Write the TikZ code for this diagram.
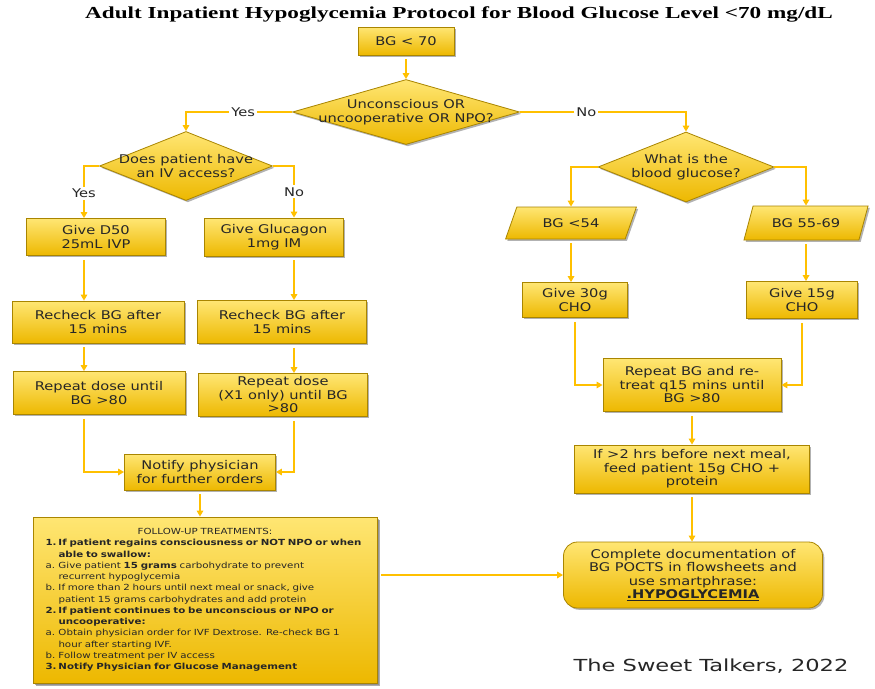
\documentclass[tikz,border=0pt]{standalone}
\usepackage{fontspec}
\setmainfont{Liberation Serif}
\newfontfamily\boxfont[FakeStretch=1.22]{DejaVu Sans}
\newfontfamily\creditfont[FakeStretch=1.36]{DejaVu Sans}
\newfontfamily\titlefont[FakeStretch=1.38]{Liberation Serif}
\usetikzlibrary{arrows.meta, shapes.geometric, shadows}
\definecolor{GoldTop}{HTML}{FFE673}
\definecolor{GoldMid}{HTML}{FFD000}
\definecolor{GoldBot}{HTML}{EDB800}
\definecolor{GoldEdge}{HTML}{A98500}
\definecolor{Flow}{HTML}{FFC000}
\definecolor{Ink}{HTML}{262626}

\newcommand{\followline}[2]{\par\noindent\makebox[13pt][l]{#1}#2\par}

\tikzset{
    box/.style={rectangle, draw=GoldEdge, line width=0.8pt, top color=GoldTop, middle color=GoldMid, bottom color=GoldBot,
        drop shadow={shadow xshift=1.8pt, shadow yshift=-1.8pt, opacity=0.6},
        font=\boxfont\fontsize{12}{13.5}\selectfont, text=Ink, align=center, inner sep=0pt},
    decision/.style={box, diamond},
    slanted/.style={box, trapezium, trapezium left angle=57, trapezium right angle=123, trapezium stretches=true},
    qtext/.style={font=\boxfont\fontsize{12}{13.5}\selectfont, text=Ink, align=center},
    flow/.style={draw=Flow, line width=1.6pt, -{Triangle[length=6pt, width=6.5pt]}},
    gap/.style={shorten <=4pt},
    yesno/.style={fill=white, font=\boxfont\fontsize{12}{13.5}\selectfont, text=Ink, inner sep=2pt},
}

\begin{document}
\begin{tikzpicture}[x=1pt, y=-1pt]

    \fill[white] (0,0) rectangle (875,688);
    \useasboundingbox (0,0) rectangle (875,688);

    \node (title) at (459,14) {\titlefont\bfseries\fontsize{16.8}{18}\selectfont Adult Inpatient Hypoglycemia Protocol for Blood Glucose Level <70 mg/dL};

    % main question
    \node[box, minimum width=96, minimum height=28] (start) at (406,41) {BG < 70};
    \node[decision, minimum width=227, minimum height=65,
        label={[qtext]center:Unconscious OR\\uncooperative OR NPO?}] (uncon) at (406,112) {};

    % left branch
    \node[decision, minimum width=173, minimum height=69,
        label={[qtext]center:Does patient have\\an IV access?}] (ivq) at (186,166) {};
    \node[box, minimum width=139, minimum height=37] (d50) at (96,237) {Give D50\\25mL IVP};
    \node[box, minimum width=139, minimum height=38] (glucagon) at (274,237) {Give Glucagon\\1mg IM};
    \node[box, minimum width=172, minimum height=42] (recheckA) at (98,322) {Recheck BG after\\15 mins};
    \node[box, minimum width=169, minimum height=43] (recheckB) at (282,322) {Recheck BG after\\15 mins};
    \node[box, minimum width=172, minimum height=43] (repeatA) at (99,393) {Repeat dose until\\BG >80};
    \node[box, minimum width=169, minimum height=43] (repeatB) at (283,395) {Repeat dose\\(X1 only) until BG\\>80};
    \node[box, minimum width=151, minimum height=36] (notify) at (200,472) {Notify physician\\for further orders};
    \node[box, minimum width=344, minimum height=166, text width=319, align=left,
        drop shadow={shadow xshift=3pt, shadow yshift=-3pt, opacity=0.65},
        font=\boxfont\fontsize{8.4}{11.25}\selectfont] (followup) at (205,600) {%
        \baselineskip=11.25pt\parskip=0pt
        {\centering FOLLOW-UP TREATMENTS:\par}
        \followline{\textbf{1.}}{\textbf{If patient regains consciousness or NOT NPO or when}}
        \followline{}{\textbf{able to swallow:}}
        \followline{a.}{Give patient \textbf{15 grams} carbohydrate to prevent}
        \followline{}{recurrent hypoglycemia}
        \followline{b.}{If more than 2 hours until next meal or snack, give}
        \followline{}{patient 15 grams carbohydrates and add protein}
        \followline{\textbf{2.}}{\textbf{If patient continues to be unconscious or NPO or}}
        \followline{}{\textbf{uncooperative:}}
        \followline{a.}{Obtain physician order for IVF Dextrose. Re-check BG 1}
        \followline{}{hour after starting IVF.}
        \followline{b.}{Follow treatment per IV access}
        \followline{\textbf{3.}}{\textbf{Notify Physician for Glucose Management}}};

    % right branch
    \node[decision, minimum width=176, minimum height=70,
        label={[qtext]center:What is the\\blood glucose?}] (bgq) at (686,167) {};
    \node[slanted, minimum width=131, minimum height=32] (bglow) at (571,223) {BG <54};
    \node[slanted, minimum width=125, minimum height=34] (bgmid) at (806,223) {BG 55-69};
    \node[box, minimum width=105, minimum height=35] (give30) at (575,300) {Give 30g\\CHO};
    \node[box, minimum width=111, minimum height=37] (give15) at (802,300) {Give 15g\\CHO};
    \node[box, minimum width=178, minimum height=53] (repeatbg) at (692,385) {Repeat BG and re-\\treat q15 mins until\\BG >80};
    \node[box, minimum width=235, minimum height=48] (feed) at (692,469) {If >2 hrs before next meal,\\feed patient 15g CHO +\\protein};
    \node[box, rounded corners=14pt, minimum width=259, minimum height=66] (complete) at (693,575)
        {Complete documentation of\\BG POCTS in flowsheets and\\use smartphrase:\\\underline{\textbf{.HYPOGLYCEMIA}}};

    \node[font=\creditfont\fontsize{16.6}{18}\selectfont, text=Ink] (credit) at (711,666) {The Sweet Talkers, 2022};

    % connectors
    \coordinate (colA) at (84,0);
    \coordinate (colB) at (294,0);
    \draw[flow, gap] (start.south) -- (uncon.north);
    \draw[flow] (uncon.west) -| node[yesno, pos=0.23] (yes1) {Yes} (ivq.north);
    \draw[flow] (uncon.east) -| node[yesno, pos=0.2] (no1) {No} (bgq.north);
    \draw[flow] (ivq.west) -| node[yesno, pos=0.76] (yes2) {Yes} (colA |- d50.north);
    \draw[flow] (ivq.east) -| node[yesno, pos=0.75] (no2) {No} (colB |- glucagon.north);
    \draw[flow, gap] (colA |- d50.south) -- (colA |- recheckA.north);
    \draw[flow, gap] (colB |- glucagon.south) -- (colB |- recheckB.north);
    \draw[flow, gap] (colA |- recheckA.south) -- (colA |- repeatA.north);
    \draw[flow, gap] (colB |- recheckB.south) -- (colB |- repeatB.north);
    \draw[flow, gap] (colA |- repeatA.south) |- (notify.west);
    \draw[flow, gap] (colB |- repeatB.south) |- (notify.east);
    \draw[flow, gap] (notify.south) -- (notify.south |- followup.north);
    \draw[flow] (bgq.west) -| (bglow.north);
    \draw[flow] (bgq.east) -| (bgmid.north);
    \draw[flow, gap] (bglow.south) -- (bglow.south |- give30.north);
    \draw[flow, gap] (bgmid.south) -- (bgmid.south |- give15.north);
    \draw[flow, gap] (give30.south) |- (repeatbg.west);
    \draw[flow, gap] (give15.south) |- (repeatbg.east);
    \draw[flow, gap] (repeatbg.south) -- (repeatbg.south |- feed.north);
    \draw[flow, gap] (feed.south) -- (feed.south |- complete.north);
    \draw[flow, gap] (complete.west -| followup.east) -- (complete.west);
\end{tikzpicture}
\end{document}
